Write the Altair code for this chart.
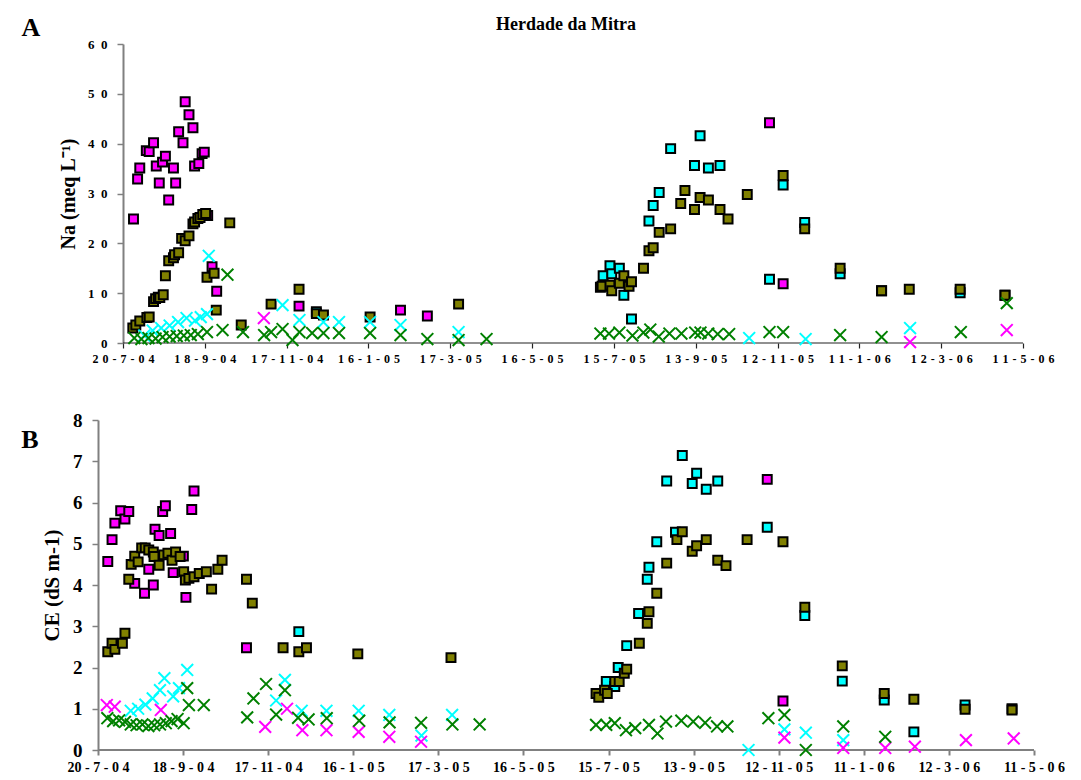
import altair as alt
import pandas as pd

FONT = "Liberation Serif"

# x axis: days counted from 20-7-2004, one tick every 60 days
tick_days = [0, 60, 120, 180, 240, 300, 360, 420, 480, 540, 600, 660]
tick_labels = ["20-7-04", "18-9-04", "17-11-04", "16-1-05", "17-3-05", "16-5-05",
               "15-7-05", "13-9-05", "12-11-05", "11-1-06", "12-3-06", "11-5-06"]

# ---------------- Panel A : Na (meq L-1) ----------------
a_pink_sq_day = [7.7, 10.7, 12.3, 17.1, 19.2, 22.4, 24.4, 26.6, 29.0, 31.1, 33.5, 37.0, 38.6, 40.8, 44.0, 45.6,
                 48.4, 51.3, 52.5, 55.6, 58.0, 59.6, 62.1, 65.3, 68.7, 129.1, 203.5, 223.2, 474.1, 484.1]
a_pink_sq_val = [24.9, 32.9, 35.1, 38.6, 38.4, 40.2, 35.5, 32.1, 36.3, 37.5, 28.7, 35.1, 32.1, 42.4, 40.2, 48.4,
                 45.8, 43.2, 35.5, 36.0, 38.0, 38.3, 25.6, 15.3, 10.4, 7.4, 6.6, 5.4, 44.2, 11.9]

a_cyan_sq_day = [352.1, 357.1, 358.4, 364.0, 367.3, 372.9, 385.7, 388.8, 393.2, 401.6, 419.1, 423.2, 429.3, 437.8,
                 474.1, 484.1, 499.9, 525.9, 556.3, 613.9, 646.8, 141.8]
a_cyan_sq_val = [13.5, 15.5, 13.9, 15.0, 9.6, 4.8, 24.5, 27.6, 30.2, 39.0, 35.6, 41.6, 35.1, 35.6,
                 12.8, 31.7, 24.2, 13.9, 10.5, 10.1, 9.6, 6.3]

a_olive_sq_day = [7.2, 9.4, 12.3, 17.5, 19.2, 22.4, 23.9, 25.9, 27.0, 29.5, 31.1, 33.5, 37.0, 37.8, 40.8, 43.0,
                  45.6, 48.4, 51.3, 52.5, 54.9, 56.5, 58.5, 60.6, 61.6, 66.8, 68.4, 78.3, 86.7, 108.6, 129.1,
                  141.8, 147.0, 181.2, 246.1,
                  350.1, 351.3, 357.1, 358.4, 364.0, 367.3, 371.1, 372.9, 381.7, 385.7, 388.8, 393.2, 401.6,
                  409.0, 412.1, 419.1, 423.2, 429.3, 437.8, 443.7, 457.8, 484.1, 499.9, 525.9, 556.3, 576.6,
                  613.9, 646.8]
a_olive_sq_val = [3.0, 3.6, 4.4, 5.1, 5.2, 8.3, 8.9, 9.2, 9.1, 9.7, 13.5, 16.5, 17.1, 17.7, 18.1, 21.0,
                  20.5, 21.5, 23.9, 24.3, 25.0, 25.2, 25.8, 26.0, 13.2, 14.0, 6.6, 24.1, 3.6, 7.8, 10.8,
                  5.9, 5.6, 5.2, 7.8,
                  11.2, 11.4, 11.6, 10.5, 12.0, 13.5, 11.4, 12.3, 15.0, 18.5, 19.1, 22.2, 22.9,
                  28.0, 30.6, 26.8, 29.2, 28.7, 26.8, 24.9, 29.8, 33.6, 22.9, 15.0, 10.5, 10.8,
                  10.8, 9.6]

a_cyan_x_day = [15.6, 21.8, 28.0, 34.2, 40.4, 46.6, 52.8, 57.0, 61.6, 62.9, 117.0, 129.4, 147.0, 158.4, 181.2,
                203.5, 246.1, 459.2, 500.6, 577.2]
a_cyan_x_val = [1.5, 2.5, 3.0, 3.5, 4.2, 5.0, 4.5, 5.2, 5.8, 17.5, 7.6, 4.6, 4.2, 4.2, 4.2,
                3.6, 2.2, 1.0, 0.8, 3.0]

a_pink_x_day = [103.3, 577.2, 648.1]
a_pink_x_val = [5.0, 0.2, 2.6]

a_green_x_day = [8.3, 13.5, 18.7, 23.9, 29.0, 34.2, 39.4, 44.6, 49.7, 54.9, 61.6, 73.0, 76.6, 88.0, 103.5, 108.6,
                 117.0, 124.3, 129.4, 138.7, 147.0, 158.4, 181.2, 203.5, 223.2, 246.1, 266.6,
                 350.1, 356.4, 364.0, 373.6, 381.6, 386.7, 392.9, 400.7, 409.5, 419.6, 423.5, 429.2, 436.1, 444.5,
                 474.1, 484.1, 525.9, 556.3, 614.4, 648.1]
a_green_x_val = [1.0, 0.8, 1.0, 0.9, 1.2, 1.3, 1.4, 1.5, 1.6, 1.8, 2.2, 2.6, 13.7, 2.2, 1.6, 2.2,
                 2.8, 0.6, 2.2, 2.0, 2.0, 2.0, 2.0, 1.6, 0.8, 0.6, 0.8,
                 1.9, 1.9, 2.1, 1.5, 2.1, 2.7, 1.3, 1.9, 1.9, 2.1, 2.1, 1.9, 1.8, 1.8,
                 2.2, 2.2, 1.6, 1.2, 2.2, 8.0]

# ---------------- Panel B : CE (dS m-1) ----------------
b_pink_sq_day = [6.9, 9.9, 11.9, 16.0, 19.0, 21.7, 25.9, 32.8, 35.8, 39.0, 40.2, 43.1, 45.6, 47.5, 51.2, 53.0, 60.2,
                 62.0, 66.1, 67.7, 104.7, 471.9, 483.0]
b_pink_sq_val = [4.57, 5.1, 5.5, 5.8, 5.6, 5.78, 4.04, 3.8, 4.38, 4.0, 5.35, 5.2, 5.78, 5.92, 5.25, 4.3, 4.7,
                 3.7, 5.83, 6.28, 2.48, 6.56, 1.19]

b_cyan_sq_day = [141.6, 352.4, 358.4, 364.4, 366.8, 372.8, 381.2, 387.3, 388.5, 394.0, 401.0, 407.2, 412.0, 419.0,
                 422.1, 428.9, 437.0, 471.9, 498.4, 524.8, 554.4, 575.3, 611.4, 644.5]
b_cyan_sq_val = [2.87, 1.37, 1.66, 1.54, 2.0, 2.53, 3.31, 4.14, 4.43, 5.05, 6.52, 5.28, 7.14, 6.46,
                 6.71, 6.32, 6.52, 5.4, 3.26, 1.67, 1.21, 0.44, 1.09, 1.0]

b_olive_sq_day = [6.9, 9.9, 11.9, 17.2, 19.0, 21.7, 23.4, 25.9, 28.3, 30.8, 33.3, 35.8, 39.0, 39.5, 43.1, 46.3,
                  49.3, 52.2, 54.7, 57.9, 60.4, 61.6, 64.1, 67.7, 71.4, 76.4, 80.1, 84.5, 87.5, 104.7, 108.8,
                  130.5, 141.6, 147.0, 183.2, 248.9,
                  351.2, 353.1, 357.2, 359.1, 364.4, 367.5, 371.1, 372.8, 381.7, 387.3, 388.5, 394.0, 401.0,
                  408.2, 412.0, 419.0, 422.1, 428.9, 437.0, 442.8, 457.7, 483.0, 498.4, 524.8, 554.4, 575.3,
                  611.4, 644.5]
b_olive_sq_val = [2.38, 2.59, 2.44, 2.59, 2.83, 4.14, 4.5, 4.7, 4.56, 4.9, 4.9, 4.85, 4.8, 4.69, 4.48, 4.73,
                  4.77, 4.6, 4.8, 4.69, 4.32, 4.12, 4.16, 4.2, 4.28, 4.32, 3.9, 4.38, 4.6, 4.14, 3.56,
                  2.48, 2.38, 2.48, 2.33, 2.24,
                  1.37, 1.28, 1.45, 1.37, 1.66, 1.66, 1.86, 1.96, 2.59, 3.07, 3.35, 3.8, 4.53,
                  5.1, 5.29, 4.82, 4.95, 5.1, 4.6, 4.47, 5.1, 5.05, 3.46, 2.04, 1.37, 1.23,
                  0.99, 0.97]

b_cyan_x_day = [23.1, 28.3, 33.4, 38.6, 43.7, 46.8, 53.0, 57.1, 62.9, 125.6, 131.8, 143.6, 161.1, 183.8, 205.4,
                228.1, 249.7, 458.7, 484.0, 499.1, 525.5]
b_cyan_x_val = [0.95, 1.0, 1.1, 1.25, 1.45, 1.74, 1.3, 1.5, 1.94, 1.2, 1.7, 0.95, 0.95, 0.95, 0.85,
                0.35, 0.85, 0.0, 0.5, 0.42, 0.24]

b_pink_x_day = [6.2, 11.8, 44.3, 117.9, 133.3, 144.1, 161.1, 183.8, 205.4, 227.8,
                484.0, 525.5, 555.1, 576.0, 612.0, 645.7]
b_pink_x_val = [1.09, 1.05, 0.97, 0.56, 1.0, 0.48, 0.48, 0.44, 0.32, 0.2,
                0.3, 0.05, 0.05, 0.08, 0.24, 0.28]

b_green_x_day = [6.6, 10.7, 14.9, 19.0, 23.1, 27.2, 31.3, 35.5, 39.6, 43.7, 47.8, 51.9, 56.1, 60.4, 62.9, 64.1,
                 74.6, 105.2, 109.6, 118.5, 125.6, 131.8, 141.1, 148.5, 161.3, 184.2, 205.6, 227.8, 249.9, 269.1,
                 351.2, 358.4, 364.4, 372.3, 378.8, 388.5, 394.5, 400.5, 411.3, 419.7, 428.1, 436.5, 443.8,
                 472.7, 484.0, 499.1, 525.5, 555.1]
b_green_x_val = [0.77, 0.7, 0.72, 0.68, 0.62, 0.6, 0.62, 0.58, 0.6, 0.62, 0.65, 0.7, 0.75, 0.65, 1.5, 1.09,
                 1.09, 0.79, 1.25, 1.6, 0.86, 1.45, 0.78, 0.74, 0.77, 0.71, 0.67, 0.66, 0.62, 0.62,
                 0.61, 0.61, 0.65, 0.48, 0.53, 0.61, 0.40, 0.69, 0.71, 0.69, 0.66, 0.57, 0.57,
                 0.77, 0.85, 0.0, 0.57, 0.32]

PINK, CYAN, OLIVE, GREEN = "#ff00ff", "#00ffff", "#808000", "#008000"
XSHAPE = "M-1,-1L1,1M-1,1L1,-1"
AXIS_GREY = "#808080"


def spaced_a(lbl):
    return "\u2004".join(list(lbl))


def spaced_b(lbl):
    d, m, y = lbl.split("-")
    return f"{d} - {m} - {y[0]} {y[1]}"


def label_expr(fn):
    arr = ",".join("'" + fn(l) + "'" for l in tick_labels)
    return f"[{arr}][round(datum.value/60)]"


def panel(series, ydom, ystep, ytitle, xfont, yfont, ytitlefont, ylabel_expr, width, height,
          xstart, yoffset, letter, letter_xy, xline, title=None, title_xy=None, ytitle_pad=10, ylabel_pad=8):
    xaxis = alt.Axis(values=tick_days, labelExpr=label_expr(xfont[1]), title=None, grid=False,
                     labelFont=FONT, labelFontWeight="bold", labelFontSize=xfont[0], labelColor="black",
                     domain=False, tickColor=xline[0], tickWidth=xline[1],
                     tickSize=5, labelPadding=5, labelOverlap=False, labelFlush=False)
    yaxis = alt.Axis(values=list(range(ydom[0], ydom[1] + 1, ystep)), labelExpr=ylabel_expr, title=ytitle,
                     grid=False, labelFont=FONT, labelFontWeight="bold", labelFontSize=yfont,
                     labelColor="black", titleFont=FONT, titleFontWeight="bold", titleFontSize=ytitlefont,
                     titleColor="black", titlePadding=ytitle_pad, domainColor=AXIS_GREY, domainWidth=2,
                     tickColor=AXIS_GREY, tickWidth=1.5, tickSize=6, labelPadding=ylabel_pad, offset=yoffset)
    xenc = alt.X("day:Q", scale=alt.Scale(domain=[xstart, 660], nice=False, zero=False), axis=xaxis)
    yenc = alt.Y("value:Q", scale=alt.Scale(domain=list(ydom), nice=False), axis=yaxis)

    # x axis line, drawn from the first to the last date tick
    base = pd.DataFrame({"day": [tick_days[0]], "day2": [tick_days[-1]], "value": [ydom[0]]})
    layers = [alt.Chart(base).mark_rule(color=xline[0], strokeWidth=xline[1]).encode(
        x=xenc, x2="day2:Q", y=yenc)]
    for days, vals, color, kind in series:
        df = pd.DataFrame({"day": days, "value": vals})
        if kind == "sq":
            m = alt.Chart(df).mark_point(shape="square", filled=True, fill=color, stroke="black",
                                         strokeWidth=2, size=80, opacity=1)
        else:
            m = alt.Chart(df).mark_point(shape=XSHAPE, filled=False, stroke=color, strokeWidth=2,
                                         size=140, opacity=1)
        layers.append(m.encode(x=xenc, y=yenc))
    layers.append(alt.Chart(pd.DataFrame({"t": [letter]})).mark_text(
        font=FONT, fontWeight="bold", fontSize=26, color="black", align="center", baseline="middle"
    ).encode(text="t:N", x=alt.value(letter_xy[0]), y=alt.value(letter_xy[1])))
    if title:
        layers.append(alt.Chart(pd.DataFrame({"t": [title]})).mark_text(
            font=FONT, fontWeight="bold", fontSize=18, color="black", align="center", baseline="middle"
        ).encode(text="t:N", x=alt.value(title_xy[0]), y=alt.value(title_xy[1])))
    return alt.layer(*layers).properties(width=width, height=height)


seriesA = [
    (a_pink_sq_day, a_pink_sq_val, PINK, "sq"),
    (a_cyan_sq_day, a_cyan_sq_val, CYAN, "sq"),
    (a_olive_sq_day, a_olive_sq_val, OLIVE, "sq"),
    (a_cyan_x_day, a_cyan_x_val, CYAN, "x"),
    (a_pink_x_day, a_pink_x_val, PINK, "x"),
    (a_green_x_day, a_green_x_val, GREEN, "x"),
]
seriesB = [
    (b_pink_sq_day, b_pink_sq_val, PINK, "sq"),
    (b_cyan_sq_day, b_cyan_sq_val, CYAN, "sq"),
    (b_olive_sq_day, b_olive_sq_val, OLIVE, "sq"),
    (b_cyan_x_day, b_cyan_x_val, CYAN, "x"),
    (b_pink_x_day, b_pink_x_val, PINK, "x"),
    (b_green_x_day, b_green_x_val, GREEN, "x"),
]

# both panels share the same left plot edge; panel A starts 25 px further right
A_SHIFT = 25
A_PXDAY = 900 / 660
ylabA = "datum.value < 10 ? datum.label : floor(datum.value/10) + '\u2002' + (datum.value % 10)"
chartA = panel(seriesA, (0, 60), 10, "Na (meq L\u207b\u00b9)", (12, spaced_a), 13, 20, ylabA,
               900 + A_SHIFT, 299, -A_SHIFT / A_PXDAY, -A_SHIFT, "A", (-67, -16), ("#222222", 1.2),
               "Herdade da Mitra", (468, -19), ytitle_pad=9, ylabel_pad=10)
chartB = panel(seriesB, (0, 8), 1, "CE (dS m-1)", (14, spaced_b), 19, 21, "datum.label",
               936, 330, 0, 0, "B", (-68, 20), (AXIS_GREY, 2), ytitle_pad=10, ylabel_pad=10)

chart = alt.vconcat(chartA, chartB, spacing=47).properties(
    padding={"left": 13, "top": 7, "right": 0, "bottom": 5}
).configure_view(stroke=None)

chart.save("out.html", embed_options={"renderer": "svg", "actions": False})
